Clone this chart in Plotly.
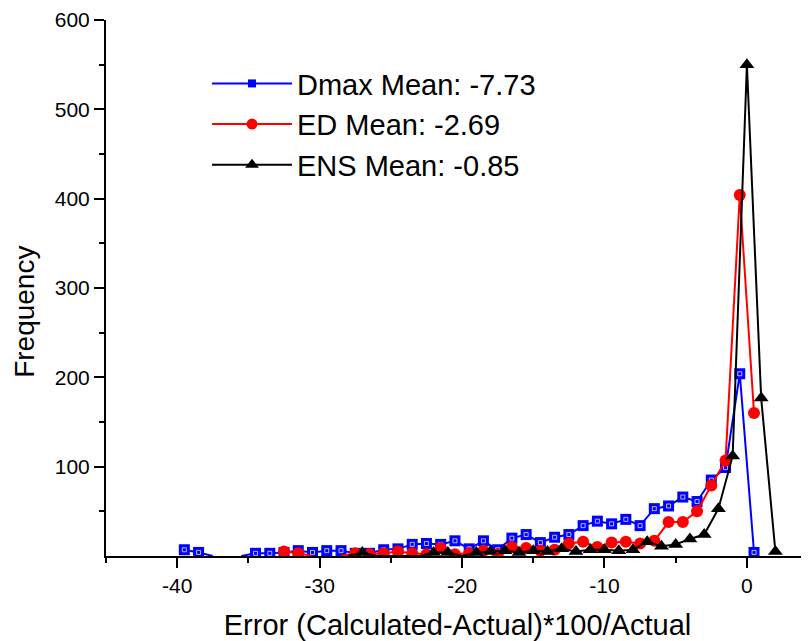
import plotly.graph_objects as go

# Histogram of percentage errors
dmax_x = [-39.5, -38.5, -37.5, -36.5, -35.5, -34.5, -33.5, -32.5, -31.5, -30.5,
          -29.5, -28.5, -27.5, -26.5, -25.5, -24.5, -23.5, -22.5, -21.5, -20.5,
          -19.5, -18.5, -17.5, -16.5, -15.5, -14.5, -13.5, -12.5, -11.5, -10.5,
          -9.5, -8.5, -7.5, -6.5, -5.5, -4.5, -3.5, -2.5, -1.5, -0.5, 0.5]
dmax_y = [7, 4, 0, None, 0, 3, 3, 4, 6, 4,
          6, 6, 3, 3, 7, 8, 13, 14, 13, 17,
          8, 17, 7, 20, 24, 15, 21, 24, 34, 39,
          36, 41, 34, 53, 56, 66, 61, 85, 99, 204, 4]

ed_x = [-32.5, -31.5, -30.5, -29.5, -28.5, -27.5, -26.5, -25.5, -24.5, -23.5,
        -22.5, -21.5, -20.5, -19.5, -18.5, -17.5, -16.5, -15.5, -14.5, -13.5,
        -12.5, -11.5, -10.5, -9.5, -8.5, -7.5, -6.5, -5.5, -4.5, -3.5,
        -2.5, -1.5, -0.5, 0.5]
ed_y = [5, 3, 0, None, 0, 3, 2, 3, 5, 3,
        2, 9, 2, 3, 6, 2, 10, 9, 6, 7,
        14, 16, 10, 15, 16, 14, 17, 38, 38, 50,
        79, 107, 404, 160]

ens_x = [-28, -27, -26, -25, -24, -23, -22, -21, -20, -19,
         -18, -17, -16, -15, -14, -13, -12, -11, -10, -9,
         -8, -7, -6, -5, -4, -3, -2, -1, 0, 1, 2]
ens_y = [0, 4, 0, 0, 0, 0, 4, 4, 0, 4,
         5, 6, 4, 6, 5, 8, 5, 7, 7, 6,
         7, 16, 11, 13, 19, 24, 53, 112, 550, 177, 5]

labels = ["Dmax Mean: -7.73", "ED Mean: -2.69", "ENS Mean: -0.85"]

x_ticks = [-40, -30, -20, -10, 0]
x_ticktext = ["-40", "-30", "-20", "-10", "0"]
y_ticks = [100, 200, 300, 400, 500, 600]

FONT = "Liberation Sans, Arial, sans-serif"


def sizes(values, size):
    # zero counts sit on the axis in the original with no visible marker
    return [0 if v == 0 else size for v in values]


fig = go.Figure()

series = [
    (dmax_x, dmax_y, "blue", "square", 11, 8),
    (ed_x, ed_y, "red", "circle", 12, 11),
    (ens_x, ens_y, "black", "triangle-up", 13, 12),
]

for (xs, ys, color, symbol, msize, lsize), name in zip(series, labels):
    fig.add_trace(go.Scatter(
        x=xs, y=ys,
        mode="lines+markers",
        line=dict(color=color, width=2),
        marker=dict(symbol=symbol, color=color, size=sizes(ys, msize),
                    opacity=1, line=dict(width=0)),
        showlegend=False,
    ))
    if symbol == "square":
        # small white inner edge of the half-filled square
        fig.add_trace(go.Scatter(
            x=xs, y=ys,
            mode="markers",
            marker=dict(symbol="square-open", color="white", size=sizes(ys, 4),
                        line=dict(width=1, color="white")),
            showlegend=False,
            hoverinfo="skip",
        ))
    # legend entry
    fig.add_trace(go.Scatter(
        x=[None], y=[None],
        mode="lines+markers",
        name=name,
        line=dict(color=color, width=2),
        marker=dict(symbol=symbol, color=color, size=lsize, line=dict(width=0)),
    ))

# page body adds an 8 px offset, so the figure is 8 px smaller each way
fig.update_layout(
    width=801,
    height=633,
    margin=dict(l=98, r=0, t=9, b=85),
    paper_bgcolor="white",
    plot_bgcolor="white",
    font=dict(family=FONT, color="black"),
    showlegend=True,
    legend=dict(
        x=0.1437, y=0.929, xanchor="left", yanchor="top",
        font=dict(size=29, family=FONT),
        itemwidth=80,
        bgcolor="rgba(0,0,0,0)",
        borderwidth=0,
        tracegroupgap=0,
    ),
    xaxis=dict(
        range=[-45, 4.36],
        tickmode="array", tickvals=x_ticks, ticktext=x_ticktext,
        ticks="outside", ticklen=10, tickwidth=2, tickcolor="black",
        minor=dict(dtick=5, tick0=0, ticks="outside", ticklen=5, tickwidth=2, tickcolor="black"),
        showline=True, linewidth=2, linecolor="black",
        showgrid=False, zeroline=False,
        tickfont=dict(size=21, family=FONT),
        title=dict(text="Error (Calculated-Actual)*100/Actual", font=dict(size=29, family=FONT), standoff=19),
    ),
    yaxis=dict(
        range=[0, 600],
        tickmode="array", tickvals=y_ticks,
        ticks="outside", ticklen=10, tickwidth=2, tickcolor="black",
        minor=dict(tickvals=[50, 150, 250, 350, 450, 550], ticks="outside", ticklen=5,
                   tickwidth=2, tickcolor="black"),
        showline=True, linewidth=2, linecolor="black",
        showgrid=False, zeroline=False,
        ticklabeloverflow="allow",
        tickfont=dict(size=21, family=FONT),
    ),
    annotations=[dict(
        text="Frequency", textangle=-90,
        xref="paper", yref="paper", x=-0.117, y=0.455,
        xanchor="center", yanchor="middle", showarrow=False,
        font=dict(size=28, family=FONT),
    )],
)

fig.write_html("out.html")
